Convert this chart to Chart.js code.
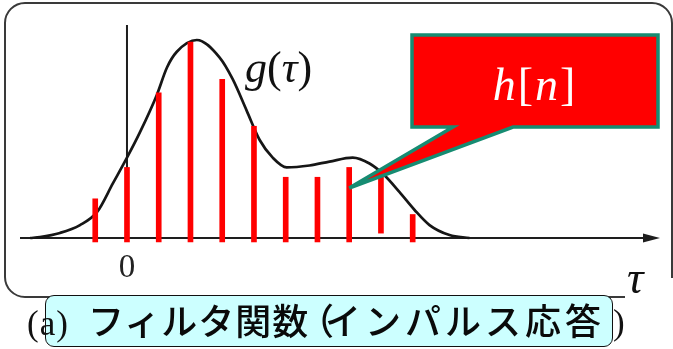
<!DOCTYPE html>
<html lang="ja">
<head>
<meta charset="utf-8">
<title>フィルタ関数（インパルス応答）</title>
<script src="https://cdn.jsdelivr.net/npm/chart.js@4.4.1/dist/chart.umd.min.js"></script>
<style>
  html, body { margin: 0; padding: 0; background: #fff; }
  #wrap { position: relative; width: 673px; height: 349px; overflow: hidden; }
  #c { position: absolute; left: 0; top: 0; }
  .lbl { position: absolute; line-height: 1; white-space: nowrap; color: #111; }
  .serif { font-family: "Liberation Serif", "DejaVu Serif", serif; }
  .jp { font-family: "Noto Sans CJK JP", sans-serif; font-size: 36px; font-weight: 500; top: 301px; color: #0a0a0a; }
  #capbox {
    position: absolute; left: 45px; top: 295px; width: 566px; height: 50px;
    background: #ccffff; border: 1.5px solid #111; border-radius: 9px;
  }
</style>
</head>
<body>
<div id="wrap">
  <canvas id="c" width="673" height="349"></canvas>
  <div class="lbl serif" style="left:245px; top:46px; font-size:44px;"><i>g</i>(<i>τ</i>)</div>
  <div class="lbl serif" style="left:410px; top:62px; width:250px; text-align:center; font-size:46px; color:#fff; letter-spacing:2px;"><i>h</i>[<i>n</i>]</div>
  <div class="lbl serif" style="left:107px; top:250px; width:40px; text-align:center; font-size:33px; color:#222;">0</div>
  <div class="lbl serif" style="left:627px; top:255px; font-size:46px;"><i>τ</i></div>
  <div id="capbox"></div>
  <div class="lbl serif" style="left:27px; top:306px; font-size:35px; letter-spacing:1px;">(a)</div>
  <div class="lbl jp" style="left:88px; letter-spacing:1px;">フィルタ関数</div>
  <div class="lbl jp" style="left:298px;">（</div>
  <div class="lbl jp" style="left:325px; letter-spacing:4px;">インパルス応答</div>
  <div class="lbl serif" style="left:613px; top:305px; font-size:35px;">)</div>
</div>
<script>
// Sample indices n and the sampled filter values h[n] (drawn as stems)
const stemIndex = [-1, 0, 1, 2, 3, 4, 5, 6, 7, 8, 9];
const stemTop   = [0.20, 0.36, 0.74, 1.00, 0.81, 0.57, 0.31, 0.31, 0.36, 0.32, 0.12];
const stemBase  = [-0.02, -0.02, -0.02, -0.02, -0.02, -0.02, -0.02, -0.02, -0.02, 0.025, -0.02];

// Continuous filter function g(τ), read at these τ positions
const curveTau = [-3.05, -2.74, -2.11, -1.48, -0.94, -0.44, 0, 0.41, 0.94, 1.26, 1.57, 2.2, 2.92,
                  3.33, 3.77, 4.18, 4.59, 5.03, 5.75, 6.38, 7.11, 7.64, 8.11, 8.58, 9.06, 9.53, 10.16, 10.79];
const curveG   = [0, 0.005, 0.026, 0.066, 0.133, 0.28, 0.41, 0.54, 0.73, 0.87, 0.95, 1.01, 0.92,
                  0.81, 0.65, 0.50, 0.41, 0.36, 0.37, 0.39, 0.41, 0.38, 0.32, 0.235, 0.143, 0.066, 0.015, 0];

// Axis ranges (τ in sample units)
const tauRange = [-4, 17.2];
const valRange = [-0.566, 1.214];

// The callout points at this sample
const calloutIndex = 7;
const calloutLevel = 0.255;

const stemData = stemIndex.map((n, i) => ({ x: n, y: [stemBase[i], stemTop[i]] }));
const curveData = curveTau.map((t, i) => ({ x: t, y: curveG[i] }));

const decor = {
  id: 'decor',
  beforeDatasetsDraw(chart) {
    const ctx = chart.ctx;
    const xs = chart.scales.x, ys = chart.scales.y;
    const x0 = xs.getPixelForValue(0), y0 = ys.getPixelForValue(0);
    ctx.save();
    // rounded frame
    ctx.strokeStyle = '#3a3a3a';
    ctx.lineWidth = 2;
    ctx.beginPath();
    ctx.moveTo(672, 278);
    ctx.lineTo(672, 23);
    ctx.arcTo(672, 3, 652, 3, 20);
    ctx.lineTo(25, 3);
    ctx.arcTo(5, 3, 5, 23, 20);
    ctx.lineTo(5, 277);
    ctx.arcTo(5, 297, 25, 297, 20);
    ctx.lineTo(625, 297);
    ctx.stroke();
    // axes
    ctx.strokeStyle = '#1e1e1e';
    ctx.lineWidth = 2;
    ctx.beginPath();
    ctx.moveTo(20, y0);
    ctx.lineTo(648, y0);
    ctx.moveTo(x0, 25);
    ctx.lineTo(x0, y0);
    ctx.stroke();
    ctx.fillStyle = '#1e1e1e';
    ctx.beginPath();
    ctx.moveTo(660, y0);
    ctx.lineTo(643, y0 - 4.5);
    ctx.lineTo(643, y0 + 4.5);
    ctx.closePath();
    ctx.fill();
    ctx.restore();
  },
  afterDatasetsDraw(chart) {
    const ctx = chart.ctx;
    const tx = chart.scales.x.getPixelForValue(calloutIndex);
    const ty = chart.scales.y.getPixelForValue(calloutLevel);
    ctx.save();
    ctx.beginPath();
    ctx.moveTo(412, 35);
    ctx.lineTo(658, 35);
    ctx.lineTo(658, 127);
    ctx.lineTo(513, 127);
    ctx.lineTo(tx, ty);
    ctx.lineTo(453, 127);
    ctx.lineTo(412, 127);
    ctx.closePath();
    ctx.fillStyle = '#ff0000';
    ctx.fill();
    ctx.lineJoin = 'miter';
    ctx.strokeStyle = '#168c72';
    ctx.lineWidth = 3.5;
    ctx.stroke();
    ctx.restore();
  }
};

new Chart(document.getElementById('c'), {
  type: 'bar',
  data: {
    datasets: [
      {
        type: 'bar',
        label: 'h[n]',
        data: stemData,
        backgroundColor: '#ff0000',
        borderWidth: 0,
        barThickness: 5,
        grouped: false,
        order: 0
      },
      {
        type: 'line',
        label: 'g(τ)',
        data: curveData,
        borderColor: '#161616',
        borderWidth: 2.7,
        pointRadius: 0,
        fill: false,
        cubicInterpolationMode: 'monotone',
        order: 1
      }
    ]
  },
  options: {
    responsive: false,
    devicePixelRatio: 1,
    animation: false,
    layout: { padding: 0 },
    plugins: { legend: { display: false }, tooltip: { enabled: false } },
    scales: {
      x: { type: 'linear', min: tauRange[0], max: tauRange[1], offset: false, display: false },
      y: { type: 'linear', min: valRange[0], max: valRange[1], display: false }
    }
  },
  plugins: [decor]
});
</script>
</body>
</html>
